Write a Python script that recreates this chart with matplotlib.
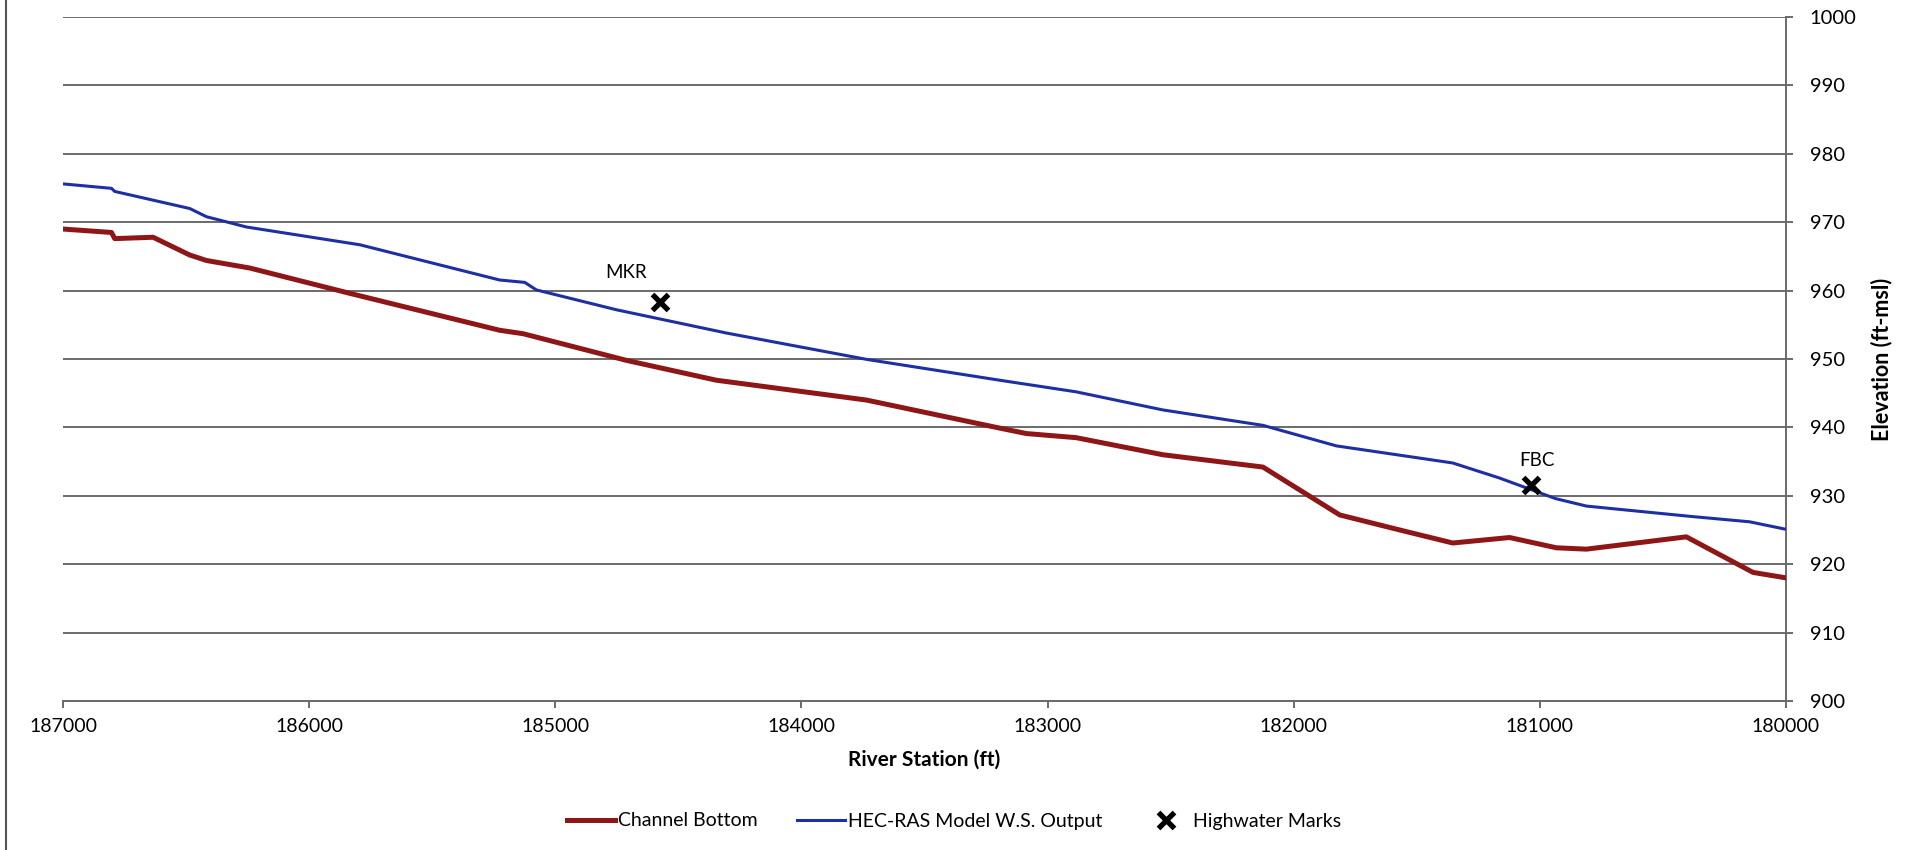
import matplotlib
matplotlib.use("Agg")
import matplotlib.pyplot as plt
from matplotlib.lines import Line2D

#----------------------------------------------------------------data

# channel bottom profile (river station ft, elevation ft-msl)
bottom_sta = [187000, 186803, 186790, 186634, 186485, 186417, 186241, 185835,
              185226, 185131, 184711, 184346, 183736, 183195, 183086, 182884,
              182531, 182125, 181813, 181569, 181354, 181123, 180933, 180811,
              180405, 180134, 180000]
bottom_elev = [969.0, 968.5, 967.6, 967.8, 965.2, 964.4, 963.3, 959.6,
               954.2, 953.7, 949.8, 946.9, 944.0, 939.9, 939.1, 938.5,
               936.0, 934.2, 927.2, 925.0, 923.1, 923.9, 922.4, 922.2,
               924.0, 918.8, 918.0]

# HEC-RAS water surface
ws_sta = [187000, 186803, 186790, 186485, 186417, 186255, 185794, 185226,
          185124, 185077, 184752, 184305, 183736, 183195, 182884, 182531,
          182125, 181827, 181354, 181164, 180937, 180811, 180391, 180148,
          180000]
ws_elev = [975.6, 974.95, 974.5, 972.0, 970.8, 969.3, 966.7, 961.55,
           961.2, 960.1, 957.2, 953.8, 949.95, 946.9, 945.2, 942.55,
           940.3, 937.3, 934.8, 932.6, 929.6, 928.5, 927.0, 926.2,
           925.1]

# highwater marks
hw_sta = [184573, 181037]
hw_elev = [958.4, 931.6]
hw_names = ["MKR", "FBC"]

x_ticks = [187000, 186000, 185000, 184000, 183000, 182000, 181000, 180000]
y_ticks = [900, 910, 920, 930, 940, 950, 960, 970, 980, 990, 1000]

#----------------------------------------------------------------plot

plt.rcParams['font.family'] = ['Lato', 'DejaVu Sans']
grid_col = '#6a6a6a'

fig = plt.figure(figsize=(19.08, 8.5), dpi=100)
ax = fig.add_axes([63/1908, 1-701/850, (1786-63)/1908, (701-17)/850])

ax.plot(bottom_sta, bottom_elev, color='#8e1616', lw=3.6, label='Channel Bottom',
        solid_joinstyle='round', zorder=3)
ax.plot(ws_sta, ws_elev, color='#1d2fa3', lw=2.2, label='HEC-RAS Model W.S. Output',
        solid_joinstyle='round', zorder=3)
ax.plot(hw_sta, hw_elev, ls='none', marker='x', ms=11, mew=3.8, color='black',
        label='Highwater Marks', zorder=4)

# data labels above the marks
offsets = [(-34, 29), (6, 24)]
for s, e, n, off in zip(hw_sta, hw_elev, hw_names, offsets):
    ax.annotate(n, (s, e), xytext=off, textcoords='offset pixels',
                ha='center', va='center', fontsize=13.5)

ax.set_xlim(187000, 180000)
ax.set_ylim(900, 1000)
ax.set_xticks(x_ticks)
ax.set_xticklabels([str(t) for t in x_ticks])
ax.set_yticks(y_ticks)
ax.yaxis.tick_right()
ax.yaxis.set_label_position('right')

ax.grid(axis='y', color=grid_col, lw=1.4)
ax.set_axisbelow(True)
for side in ['top', 'left']:
    ax.spines[side].set_visible(False)
for side in ['bottom', 'right']:
    ax.spines[side].set_color(grid_col)
    ax.spines[side].set_linewidth(1.4)

ax.tick_params(axis='x', direction='out', length=5, width=1.4, color=grid_col,
               labelsize=14, pad=7)
ax.tick_params(axis='y', direction='out', length=5, width=1.4, color=grid_col,
               labelsize=14.5, pad=12, right=True, left=False)

ax.set_xlabel('River Station (ft)', fontsize=15, fontweight='bold', labelpad=11)
ax.set_ylabel('Elevation (ft-msl)', fontsize=15.5, fontweight='bold', labelpad=10)

fig.legend(loc='center', bbox_to_anchor=(0.5, 1-821/850), ncol=3, frameon=False,
           fontsize=14, handlelength=2.5, handletextpad=0.15, columnspacing=2.0)

# chart frame edge on the left
fig.add_artist(Line2D([6/1908, 6/1908], [0, 1], transform=fig.transFigure,
                      color='#555555', lw=1.5))

fig.savefig('out.png', dpi=100, facecolor='white')
